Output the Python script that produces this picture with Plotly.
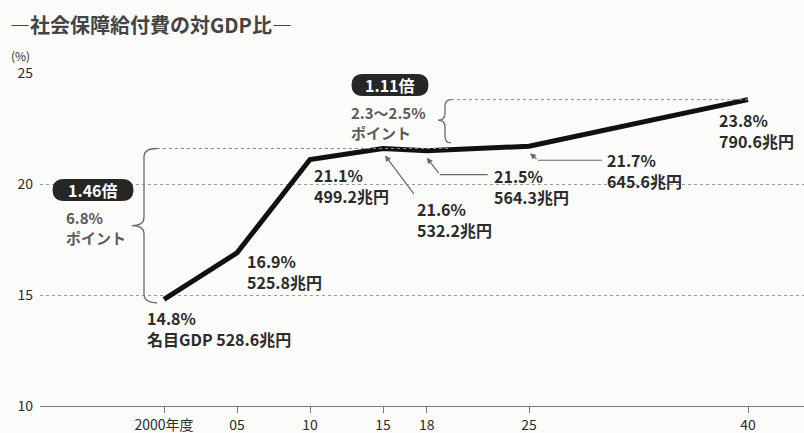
import plotly.graph_objects as go

# ---- data ----
years = [2000, 2005, 2010, 2015, 2018, 2025, 2040]
ratio = [14.8, 16.9, 21.1, 21.6, 21.5, 21.7, 23.8]          # 対GDP比 (%)
gdp = [528.6, 525.8, 499.2, 532.2, 564.3, 645.6, 790.6]      # 名目GDP (兆円)
tick_years = [2000, 2005, 2010, 2015, 2018, 2025, 2040]
tick_text = ["2000年度", "05", "10", "15", "18", "25", "40"]
y_ticks = [10, 15, 20, 25]
title_text = "―社会保障給付費の対GDP比―"
ratio_left = "1.46倍"
ratio_left_sub = "6.8%<br>ポイント"
ratio_right = "1.11倍"
ratio_right_sub = "2.3～2.5%<br>ポイント"

# ---- layout geometry ----
WIDTH, HEIGHT = 804, 433
L, R, T, B = 40, 0, 73, 27
W = WIDTH - L - R
H = HEIGHT - T - B
PPY = 14.6                      # px per year
X0 = 2000 - (164 - L) / PPY
X1 = X0 + W / PPY
Y0, Y1 = 10, 25

def px_paper_x(px):
    return (px - L) / W

def px_paper_y(py):
    return (HEIGHT - B - py) / H

FONT = "Noto Sans CJK JP"
TXT = "#2b2b2b"
SUB = "#5a5a5a"
GRAY = "#6a6a6a"

fig = go.Figure()
fig.add_trace(go.Scatter(x=years, y=ratio, mode="lines",
                         line=dict(color="#111111", width=5),
                         hoverinfo="skip", showlegend=False))

annotations = []
shapes = []

# label offsets (dx, dy of label centre) in pixels from each point (dy downward)
offsets = [(-19, 29), (8, 19), (2, 26), (32, 71), (65, 36), (76, 24), (-31, 31)]
for i, (yr, v, g) in enumerate(zip(years, ratio, gdp)):
    dx, dy = offsets[i]
    line2 = ("名目GDP " if i == 0 else "") + f"{g}兆円"
    annotations.append(dict(x=yr, y=v, xref="x", yref="y", text=f"{v}%<br>{line2}",
                            showarrow=False, xanchor="left", yanchor="middle", align="left",
                            xshift=dx, yshift=-dy,
                            font=dict(family=FONT, size=16, color=TXT, weight="bold")))

# callout arrows: index -> (tip dx, tip dy, tail dx, tail dy, horizontal end dx)
callouts = {3: (2, 7, 32, 47, None), 4: (0, 7, 13, 24, 61), 5: (1, 7, 9, 14, 73)}
for i, (tx, ty, ex, ey, hend) in callouts.items():
    annotations.append(dict(x=years[i], y=ratio[i], xref="x", yref="y", text="",
                            showarrow=True, xshift=tx, yshift=-ty,
                            ax=ex - tx, ay=ey - ty, axref="pixel", ayref="pixel",
                            arrowhead=2, arrowsize=1, arrowwidth=1.2,
                            arrowcolor=GRAY, standoff=0))
    if hend is not None:
        shapes.append(dict(type="line", xref="x", yref="y",
                           xsizemode="pixel", xanchor=years[i], x0=ex, x1=hend,
                           ysizemode="pixel", yanchor=ratio[i], y0=-ey, y1=-ey,
                           line=dict(color=GRAY, width=1.2)))

# ---- left brace (2000 -> 2015 level) ----
ytop, ybot = ratio[3], ratio[0] - 0.15
ymid = (ytop + ybot) / 2
r = 0.38
xt, xv, xn = -7, -20, -32
path = (f"M {xt},{ytop} Q {xv},{ytop} {xv},{ytop - r} L {xv},{ymid + r} "
        f"Q {xv},{ymid} {xn},{ymid} Q {xv},{ymid} {xv},{ymid - r} "
        f"L {xv},{ybot + r} Q {xv},{ybot} {xt},{ybot}")
shapes.append(dict(type="path", xref="x", yref="y", xsizemode="pixel",
                   xanchor=years[0], path=path, line=dict(color=GRAY, width=1.3)))

# ---- right brace (2015 level -> 2040) ----
BR2 = 2000 + (445 - 164) / PPY
ytop2, ybot2 = ratio[6], 21.85
ymid2 = (ytop2 + ybot2) / 2 + 0.05
r2 = 0.3
xt2, xv2, xn2 = 6, 0, -7
path2 = (f"M {xt2},{ytop2} Q {xv2},{ytop2} {xv2},{ytop2 - r2} L {xv2},{ymid2 + r2} "
         f"Q {xv2},{ymid2} {xn2},{ymid2} Q {xv2},{ymid2} {xv2},{ymid2 - r2} "
         f"L {xv2},{ybot2 + r2} Q {xv2},{ybot2} {xt2},{ybot2}")
shapes.append(dict(type="path", xref="x", yref="y", xsizemode="pixel",
                   xanchor=BR2, path=path2, line=dict(color=GRAY, width=1.3)))

# dotted reference lines
shapes.append(dict(type="line", xref="x", yref="y",
                   x0=years[0] + xt / PPY, x1=BR2 + xt2 / PPY, y0=ratio[3], y1=ratio[3],
                   line=dict(color="#8a8a8a", width=1, dash="dot")))
shapes.append(dict(type="line", xref="x", yref="y",
                   x0=BR2 + xt2 / PPY, x1=years[6], y0=ratio[6], y1=ratio[6],
                   line=dict(color="#8a8a8a", width=1, dash="dot")))

# ---- pills ----
def pill(cx, cy, w, h, text):
    rr = h / 2
    hw = w / 2
    p = (f"M {-hw + rr},{-rr} L {hw - rr},{-rr} Q {hw},{-rr} {hw},0 Q {hw},{rr} {hw - rr},{rr} "
         f"L {-hw + rr},{rr} Q {-hw},{rr} {-hw},0 Q {-hw},{-rr} {-hw + rr},{-rr} Z")
    shapes.append(dict(type="path", xref="paper", yref="paper",
                       xsizemode="pixel", ysizemode="pixel",
                       xanchor=px_paper_x(cx), yanchor=px_paper_y(cy), path=p,
                       fillcolor="#262626", line=dict(color="#262626", width=1)))
    annotations.append(dict(x=px_paper_x(cx), y=px_paper_y(cy), xref="paper", yref="paper",
                            text=text, showarrow=False, xanchor="center", yanchor="middle",
                            font=dict(family=FONT, size=16, color="white", weight="bold")))

pill(93, 190, 80, 21, ratio_left)
pill(390, 85, 76, 21, ratio_right)

for txt, (px, py) in ((ratio_left_sub, (64, 227)), (ratio_right_sub, (349, 122))):
    annotations.append(dict(x=px_paper_x(px), y=px_paper_y(py), xref="paper", yref="paper",
                            text=txt, showarrow=False, xanchor="left", yanchor="middle",
                            align="left",
                            font=dict(family=FONT, size=15, color=SUB, weight="bold")))

# title and unit
annotations.append(dict(x=px_paper_x(8), y=px_paper_y(24), xref="paper", yref="paper",
                        text=title_text, showarrow=False, xanchor="left", yanchor="middle",
                        font=dict(family=FONT, size=20, color="#444444", weight="bold")))
annotations.append(dict(x=px_paper_x(9), y=px_paper_y(55), xref="paper", yref="paper",
                        text="(%)", showarrow=False, xanchor="left", yanchor="middle",
                        font=dict(family=FONT, size=12, color=TXT)))

fig.update_layout(
    width=WIDTH, height=HEIGHT,
    margin=dict(l=L, r=R, t=T, b=B),
    paper_bgcolor="#fbfbfa", plot_bgcolor="#fbfbfa",
    showlegend=False,
    annotations=annotations, shapes=shapes,
    xaxis=dict(range=[X0, X1], tickvals=tick_years, ticktext=tick_text,
               showgrid=False, zeroline=False, showline=True,
               linecolor="#7a7a7a", linewidth=1.2,
               ticks="outside", ticklen=6, tickcolor="#7a7a7a",
               tickfont=dict(family=FONT, size=14, color=TXT)),
    yaxis=dict(range=[Y0, Y1], tickvals=y_ticks, showgrid=True,
               gridcolor="#9a9a9a", griddash="dot", gridwidth=1,
               zeroline=False, showline=False, ticks="",
               ticklabelstandoff=6,
               tickfont=dict(family=FONT, size=14, color=TXT)),
)

fig.write_html("out.html")
